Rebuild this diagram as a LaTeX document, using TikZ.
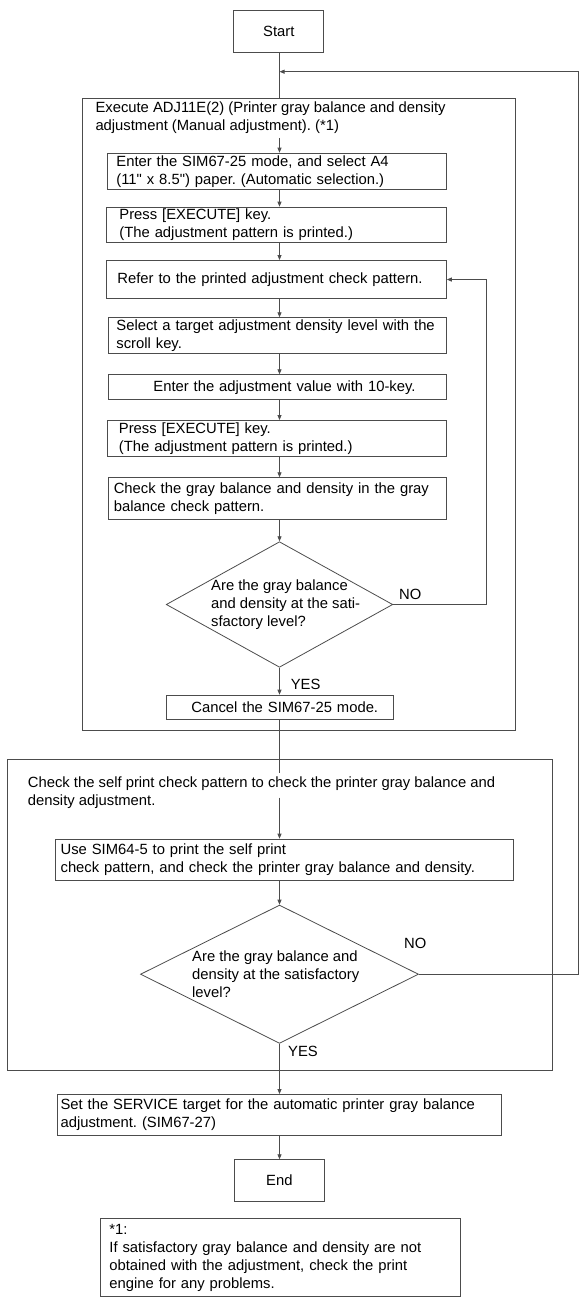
\documentclass[tikz,border=0pt]{standalone}
\usepackage{fontspec}
\setmainfont{Liberation Sans}[Ligatures=TeXOff]
\usetikzlibrary{shapes.geometric,arrows.meta}
\definecolor{lc}{gray}{0.3}
\frenchspacing
\begin{document}
\begin{tikzpicture}[x=1pt,y=-1pt,
  ln/.style={draw=lc, line width=0.8pt},
  arr/.style={ln, -{Triangle[length=5pt,width=4pt]}},
  box/.style={draw=lc, line width=0.8pt, anchor=north west, inner ysep=0pt, align=left, font=\fontsize{14.8}{18}\selectfont\frenchspacing},
  frame/.style={draw=lc, line width=0.8pt, anchor=north west, inner sep=0pt},
  dia/.style={draw=lc, line width=0.8pt, diamond, inner sep=0pt},
  txt/.style={anchor=west, inner sep=0pt, align=left, font=\fontsize{14.8}{18}\selectfont\frenchspacing}]
\useasboundingbox (0,0) rectangle (579,1297);
\coordinate (sp) at (279.5,0);

\node[box, align=center, minimum width=90pt, minimum height=41.7pt, inner xsep=0pt, text width=90pt] (start) at (233.4,10) {Start};

\node[frame, minimum width=433pt, minimum height=632.3pt] (box1) at (82,97.7) {};
\node[txt] (t1) at (95.3,118) {Execute ADJ11E(2) (Printer gray balance and density\\adjustment (Manual adjustment). (*1)};

\node[box, minimum width=339pt, minimum height=36.3pt, inner xsep=9pt, text width=321pt] (A) at (107,152.7) {Enter the SIM67-25 mode, and select A4\\(11" x 8.5") paper. (Automatic selection.)};
\node[box, minimum width=340pt, minimum height=35.6pt, inner xsep=13pt, text width=314pt] (B) at (106,206.7) {Press [EXECUTE] key.\\(The adjustment pattern is printed.)};
\node[box, minimum width=340pt, minimum height=38.3pt, inner xsep=11pt, text width=318pt] (C) at (106,260) {Refer to the printed adjustment check pattern.};
\node[box, minimum width=338.5pt, minimum height=36pt, inner xsep=8.5pt, text width=321.5pt] (D) at (107.5,317.3) {\mbox{Select a target adjustment density level with the}\\scroll key.};
\node[box, minimum width=338.5pt, minimum height=25pt, inner xsep=45.5pt, text width=247.5pt] (E) at (107.5,374.3) {\mbox{Enter the adjustment value with 10-key.}};
\node[box, minimum width=339pt, minimum height=36pt, inner xsep=11.5pt, text width=316pt] (F) at (107,420) {Press [EXECUTE] key.\\(The adjustment pattern is printed.)};
\node[box, minimum width=338pt, minimum height=41.4pt, inner xsep=5.4pt, text width=327.2pt] (G) at (108,477.3) {Check the gray balance and density in the gray\\balance check pattern.};

\node[dia, minimum width=226.5pt, minimum height=125.6pt] (d1) at (279.5,604.5) {};
\node[txt] (q1) at (211,604.5) {Are the gray balance\\and density at the sati-\\sfactory level?};
\node[txt] (no1) at (399,594) {NO};
\node[txt] (yes1) at (290.6,684) {YES};

\node[box, minimum width=226.5pt, minimum height=24.6pt, inner xsep=25pt, text width=176.5pt] (H) at (166,694.7) {\mbox{Cancel the SIM67-25 mode.}};

\node[frame, minimum width=545.8pt, minimum height=310.7pt] (box2) at (6.6,759.3) {};
\node[txt] (t2) at (27.7,792.3) {Check the self print check pattern to check the printer gray balance and\\density adjustment.};
\coordinate (g1) at (279.5,773.3);
\coordinate (g2) at (279.5,797.7);

\node[box, minimum width=457.9pt, minimum height=41.6pt, inner xsep=5.5pt, text width=446.9pt] (I) at (54.7,838.7) {Use SIM64-5 to print the self print\\check pattern, and check the printer gray balance and density.};

\node[dia, minimum width=278pt, minimum height=138.3pt] (d2) at (279.5,974.2) {};
\node[txt] (q2) at (192,974.2) {Are the gray balance and\\density at the satisfactory\\level?};
\node[txt] (no2) at (404,943.3) {NO};
\node[txt] (yes2) at (288,1051.7) {YES};

\node[box, minimum width=443.8pt, minimum height=41.3pt, inner xsep=3pt, text width=437.8pt] (J) at (57.2,1094) {Set the SERVICE target for the automatic printer gray balance\\adjustment. (SIM67-27)};

\node[box, align=center, minimum width=90pt, minimum height=41.4pt, inner xsep=0pt, text width=90pt] (endn) at (234,1159.3) {End};

\node[box, minimum width=360.3pt, minimum height=77.7pt, inner xsep=9.3pt, text width=341.7pt] (note) at (99.7,1218.3) {*1:\\If satisfactory gray balance and density are not\\obtained with the adjustment, check the print\\engine for any problems.};

\coordinate (j1) at (279.5,71.7);
\coordinate (j2) at (578,71.7);
\coordinate (r1) at (486,0);
\coordinate (a0) at (279.5,138);

\draw[ln] (start.south -| sp) -- (box1.north -| sp);
\draw[arr] (a0) -- (A.north -| sp);
\draw[arr] (A.south -| sp) -- (B.north -| sp);
\draw[arr] (B.south -| sp) -- (C.north -| sp);
\draw[arr] (C.south -| sp) -- (D.north -| sp);
\draw[arr] (D.south -| sp) -- (E.north -| sp);
\draw[arr] (E.south -| sp) -- (F.north -| sp);
\draw[arr] (F.south -| sp) -- (G.north -| sp);
\draw[arr] (G.south -| sp) -- (d1.north);
\draw[arr] (d1.south) -- (H.north -| sp);
\draw[ln] (H.south -| sp) -- (box1.south -| sp);
\draw[ln] (box1.south -| sp) -- (g1);
\draw[arr] (g2) -- (I.north -| sp);
\draw[arr] (I.south -| sp) -- (d2.north);
\draw[arr] (d2.south) -- (J.north -| sp);
\draw[arr] (J.south -| sp) -- (endn.north -| sp);
\draw[arr] (d1.east) -| (C.east -| r1) -- (C.east);
\draw[arr] (d2.east) -| (j2) -- (j1);
\end{tikzpicture}
\end{document}
